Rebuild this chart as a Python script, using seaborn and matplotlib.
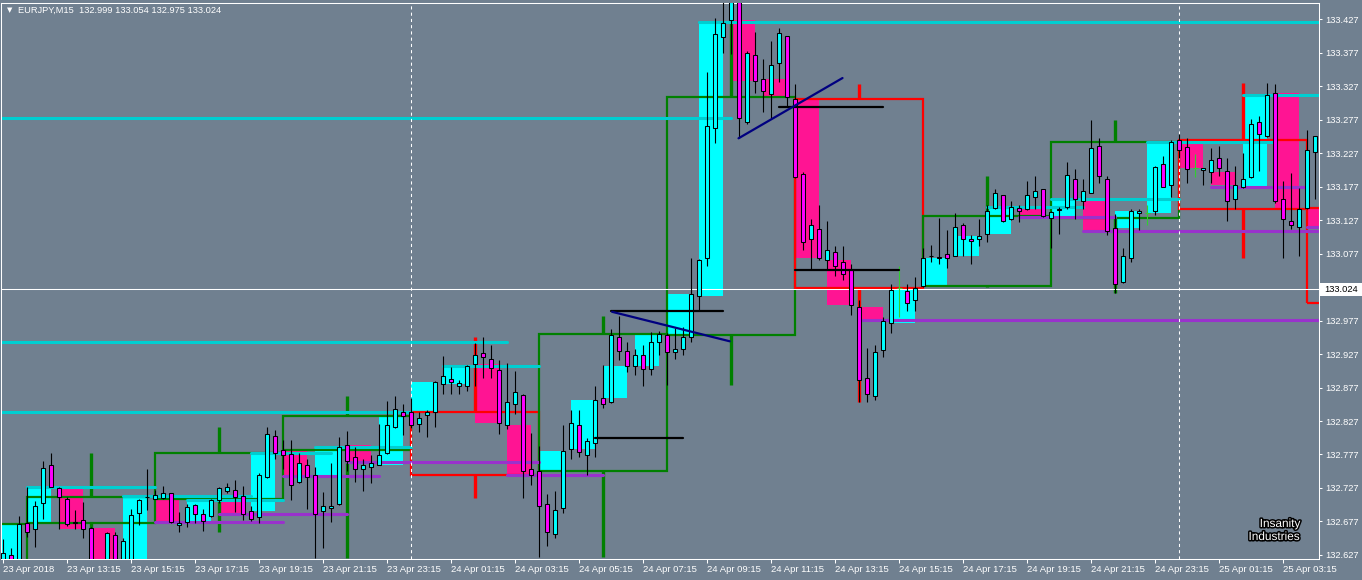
import numpy as np
import pandas as pd
import matplotlib
matplotlib.use("Agg")
import matplotlib.pyplot as plt
import matplotlib.patheffects as pe
import matplotlib.transforms as mtransforms
from matplotlib.patches import Rectangle
import seaborn as sns

# ---------------- data (EURJPY M15, first bar 23 Apr 2018 11:15) ----------------
opens = [132.610, 132.627, 132.612, 132.675, 132.666, 132.705, 132.761, 132.727, 132.711, 132.676,
         132.679, 132.667, 132.605, 132.598, 132.657, 132.605, 132.612, 132.690, 132.713, 132.711,
         132.712, 132.719, 132.672, 132.676, 132.702, 132.688, 132.685, 132.709, 132.722, 132.724,
         132.715, 132.692, 132.683, 132.743, 132.804, 132.783, 132.777, 132.736, 132.761, 132.746,
         132.692, 132.697, 132.703, 132.791, 132.773, 132.755, 132.758, 132.762, 132.779, 132.818,
         132.841, 132.840, 132.822, 132.836, 132.841, 132.882, 132.889, 132.880, 132.879, 132.912,
         132.928, 132.919, 132.903, 132.821, 132.852, 132.866, 132.755, 132.752, 132.703, 132.658,
         132.697, 132.785, 132.821, 132.776, 132.794, 132.861, 132.855, 132.953, 132.931, 132.909,
         132.925, 132.905, 132.945, 132.955, 132.930, 132.935, 132.952, 133.013, 133.070, 133.264,
         133.400, 133.425, 133.470, 133.274, 133.374, 133.338, 133.315, 133.362, 133.401, 133.307,
         133.195, 133.099, 133.114, 133.067, 133.080, 133.064, 133.052, 132.997, 132.891, 132.864,
         132.933, 132.974, 133.025, 133.021, 133.007, 133.028, 133.074, 133.072, 133.076, 133.074,
         133.119, 133.098, 133.098, 133.106, 133.145, 133.164, 133.128, 133.145, 133.143, 133.161,
         133.173, 133.130, 133.142, 133.146, 133.189, 133.156, 133.168, 133.238, 133.189, 133.115,
         133.034, 133.071, 133.137, 133.137, 133.140, 133.210, 133.179, 133.246, 133.236, 133.204,
         133.201, 133.198, 133.220, 133.200, 133.159, 133.176, 133.191, 133.274, 133.252, 133.316,
         133.159, 133.125, 133.116, 133.145, 133.228]
highs = [132.651, 132.638, 132.685, 132.729, 132.708, 132.767, 132.779, 132.728, 132.714, 132.694,
         132.706, 132.669, 132.612, 132.661, 132.662, 132.652, 132.696, 132.710, 132.755, 132.724,
         132.730, 132.720, 132.691, 132.703, 132.703, 132.696, 132.710, 132.729, 132.735, 132.739,
         132.730, 132.700, 132.749, 132.818, 132.813, 132.798, 132.798, 132.779, 132.770, 132.758,
         132.721, 132.764, 132.803, 132.812, 132.788, 132.770, 132.776, 132.822, 132.857, 132.864,
         132.853, 132.862, 132.840, 132.844, 132.886, 132.924, 132.907, 132.888, 132.910, 132.944,
         132.953, 132.940, 132.918, 132.913, 132.901, 132.867, 132.809, 132.789, 132.718, 132.722,
         132.821, 132.843, 132.843, 132.801, 132.880, 132.910, 132.964, 132.984, 132.945, 132.935,
         132.940, 132.960, 132.962, 132.958, 132.966, 132.968, 133.071, 133.069, 133.348, 133.428,
         133.455, 133.480, 133.490, 133.380, 133.407, 133.367, 133.394, 133.413, 133.402, 133.330,
         133.198, 133.128, 133.150, 133.125, 133.088, 133.088, 133.061, 133.007, 132.936, 132.941,
         132.982, 133.032, 133.059, 133.031, 133.042, 133.086, 133.090, 133.130, 133.112, 133.137,
         133.122, 133.104, 133.128, 133.149, 133.173, 133.165, 133.155, 133.149, 133.185, 133.192,
         133.174, 133.140, 133.146, 133.213, 133.203, 133.189, 133.276, 133.249, 133.192, 133.136,
         133.085, 133.144, 133.144, 133.149, 133.207, 133.222, 133.247, 133.256, 133.250, 133.225,
         133.205, 133.234, 133.237, 133.219, 133.207, 133.227, 133.278, 133.282, 133.331, 133.330,
         133.185, 133.197, 133.175, 133.261, 133.252]
lows = [132.600, 132.605, 132.605, 132.654, 132.639, 132.681, 132.729, 132.666, 132.670, 132.666,
        132.652, 132.598, 132.590, 132.595, 132.600, 132.600, 132.605, 132.672, 132.694, 132.710,
        132.711, 132.674, 132.662, 132.669, 132.675, 132.663, 132.684, 132.705, 132.719, 132.691,
        132.679, 132.677, 132.674, 132.742, 132.771, 132.755, 132.709, 132.735, 132.695, 132.622,
        132.637, 132.676, 132.702, 132.752, 132.736, 132.722, 132.734, 132.761, 132.778, 132.817,
        132.806, 132.816, 132.810, 132.803, 132.818, 132.868, 132.868, 132.867, 132.872, 132.879,
        132.891, 132.891, 132.807, 132.815, 132.837, 132.712, 132.732, 132.624, 132.640, 132.652,
        132.689, 132.771, 132.773, 132.746, 132.774, 132.846, 132.854, 132.918, 132.900, 132.895,
        132.880, 132.895, 132.925, 132.881, 132.920, 132.925, 132.945, 132.992, 133.059, 133.242,
        133.377, 133.375, 133.249, 133.271, 133.316, 133.289, 133.279, 133.333, 133.296, 133.190,
        133.083, 133.052, 133.068, 133.052, 133.043, 133.037, 132.985, 132.856, 132.856, 132.859,
        132.922, 132.958, 132.982, 132.991, 132.991, 133.027, 133.064, 133.061, 133.056, 133.073,
        133.074, 133.061, 133.088, 133.094, 133.144, 133.124, 133.127, 133.124, 133.142, 133.143,
        133.131, 133.085, 133.106, 133.143, 133.128, 133.143, 133.167, 133.183, 133.104, 133.018,
        133.033, 133.064, 133.112, 133.119, 133.134, 133.176, 133.161, 133.219, 133.182, 133.191,
        133.180, 133.183, 133.192, 133.125, 133.144, 133.175, 133.190, 133.200, 133.251, 133.152,
        133.071, 133.113, 133.074, 133.144, 133.158]
closes = [132.630, 132.612, 132.673, 132.661, 132.700, 132.757, 132.729, 132.714, 132.673, 132.675,
          132.666, 132.605, 132.598, 132.660, 132.605, 132.648, 132.687, 132.709, 132.714, 132.716,
          132.720, 132.676, 132.675, 132.698, 132.688, 132.677, 132.709, 132.727, 132.728, 132.713,
          132.688, 132.680, 132.746, 132.807, 132.779, 132.776, 132.732, 132.764, 132.743, 132.688,
          132.700, 132.700, 132.788, 132.768, 132.756, 132.761, 132.765, 132.776, 132.821, 132.845,
          132.834, 132.821, 132.831, 132.840, 132.885, 132.894, 132.885, 132.884, 132.909, 132.926,
          132.922, 132.906, 132.824, 132.855, 132.870, 132.752, 132.747, 132.700, 132.661, 132.694,
          132.782, 132.824, 132.780, 132.797, 132.858, 132.852, 132.956, 132.931, 132.909, 132.925,
          132.905, 132.945, 132.957, 132.930, 132.935, 132.952, 133.016, 133.067, 133.267, 133.404,
          133.421, 133.460, 133.279, 133.377, 133.334, 133.319, 133.358, 133.406, 133.310, 133.191,
          133.094, 133.119, 133.070, 133.083, 133.059, 133.047, 133.000, 132.888, 132.867, 132.930,
          132.977, 133.022, 133.025, 133.003, 133.025, 133.070, 133.073, 133.071, 133.071, 133.116,
          133.098, 133.095, 133.103, 133.140, 133.167, 133.125, 133.146, 133.140, 133.164, 133.171,
          133.133, 133.139, 133.143, 133.194, 133.159, 133.171, 133.235, 133.192, 133.110, 133.031,
          133.074, 133.140, 133.140, 133.137, 133.206, 133.177, 133.243, 133.231, 133.203, 133.204,
          133.204, 133.216, 133.204, 133.155, 133.179, 133.189, 133.270, 133.256, 133.313, 133.155,
          133.128, 133.119, 133.143, 133.231, 133.252]

h1_last_close = 133.117      # running H1 candle (04:00)
h4_last_close = 133.003      # running H4 candle (04:00)
bid_price = 133.024

# extended H1 close levels (start bar, end bar, price)
res_start = [-1, -1, -1, 3, 15, 23, 31, 39, 55, 87, 123, 131, 143, 155]
res_end = [91, 63, 51, 19, 31, 35, 41, 51, 67, 166, 135, 147, 159, 166]
res_price = [133.279, 132.945, 132.840, 132.729, 132.715, 132.709, 132.779, 132.788,
             132.909, 133.423, 133.147, 133.159, 133.243, 133.314]
sup_start = [19, 27, 35, 43, 63, 107, 127, 135, 151, 163]
sup_end = [35, 43, 47, 67, 75, 166, 139, 166, 163, 166]
sup_price = [132.676, 132.688, 132.745, 132.766, 132.747, 132.978, 133.131, 133.111, 133.176, 133.117]

# black horizontal segments
blk_start = [74, 76, 97, 99]
blk_end = [85, 90, 110, 112]
blk_price = [132.802, 132.991, 133.296, 133.052]

# navy trend lines
tl_x0 = [76.1, 91.9]
tl_p0 = [132.990, 133.249]
tl_x1 = [90.8, 104.9]
tl_p1 = [132.946, 133.339]

day_sep = [51, 147]

x_tick_pos = list(range(0, 161, 8))
x_tick_labels = ["23 Apr 2018", "23 Apr 13:15", "23 Apr 15:15", "23 Apr 17:15", "23 Apr 19:15",
                 "23 Apr 21:15", "23 Apr 23:15", "24 Apr 01:15", "24 Apr 03:15", "24 Apr 05:15",
                 "24 Apr 07:15", "24 Apr 09:15", "24 Apr 11:15", "24 Apr 13:15", "24 Apr 15:15",
                 "24 Apr 17:15", "24 Apr 19:15", "24 Apr 21:15", "24 Apr 23:15", "25 Apr 01:15",
                 "25 Apr 03:15"]
y_tick_values = [132.627, 132.677, 132.727, 132.777, 132.827, 132.877, 132.927, 132.977, 133.027,
                 133.077, 133.127, 133.177, 133.227, 133.277, 133.327, 133.377, 133.427]
y_tick_labels = ["132.627", "132.677", "132.727", "132.777", "132.827", "132.877", "132.927",
                 "132.977", "133.027", "133.077", "133.127", "133.177", "133.227", "133.277",
                 "133.327", "133.377", "133.427"]
header = "EURJPY,M15  132.999 133.054 132.975 133.024"

# ---------------- style ----------------
BG = "#708090"
sns.set_style("dark", {"axes.facecolor": BG, "figure.facecolor": BG})
plt.rcParams["font.family"] = ["Liberation Sans", "DejaVu Sans"]

W, H = 1362, 580
fig = plt.figure(figsize=(W / 100, H / 100), dpi=100, facecolor=BG)
ax = fig.add_axes([1 / W, 21 / H, 1318 / W, 556 / H])
ax.set_facecolor(BG)

df = pd.DataFrame(dict(o=opens, h=highs, l=lows, c=closes))
df["i"] = np.arange(len(df))
df["g1"] = (df["i"] - 3) // 4
df["g4"] = (df["i"] - 3) // 16

# ---- H1 bodies as filled boxes ----
h1 = df.groupby("g1").agg(o=("o", "first"), c=("c", "last")).reset_index()
h1.loc[h1.index[-1], "c"] = h1_last_close
h1["start"] = 3 + 4 * h1["g1"]
h1["bot"] = np.minimum(h1.o, h1.c)
h1["hgt"] = (h1.o - h1.c).abs()
h1_col = np.where(h1.c >= h1.o, "#00FFFF", "#FF1493")
ax.bar(h1.start, h1.hgt, bottom=h1.bot, width=3, align="edge", color=h1_col,
       linewidth=0, zorder=1)

# ---- H4 candles as outlined rectangles with thick wicks ----
h4 = df.groupby("g4").agg(o=("o", "first"), c=("c", "last"), h=("h", "max"),
                          l=("l", "min")).reset_index()
h4.loc[h4.index[-1], "c"] = h4_last_close
h4["start"] = 3 + 16 * h4["g4"]
h4["top"] = np.maximum(h4.o, h4.c)
h4["bot"] = np.minimum(h4.o, h4.c)
h4_col = np.where(h4.c >= h4.o, "#008000", "#FF0000")
ax.bar(h4.start, h4.top - h4.bot, bottom=h4.bot, width=16, align="edge", fill=False,
       edgecolor=h4_col, linewidth=1.6, zorder=2)
full = h4.index[:-1]
ax.vlines(h4.start[full] + 8, h4.top[full], h4.h[full], colors=h4_col[:-1], lw=2.4, zorder=2)
ax.vlines(h4.start[full] + 8, h4.l[full], h4.bot[full], colors=h4_col[:-1], lw=2.4, zorder=2)

# ---- extended levels (seaborn) ----
def seg_frame(starts, ends, p0, p1):
    rows = []
    for k, (a, b, y0, y1) in enumerate(zip(starts, ends, p0, p1)):
        rows.append((k, a, y0))
        rows.append((k, b, y1))
    return pd.DataFrame(rows, columns=["seg", "x", "y"])

res = seg_frame(res_start, res_end, res_price, res_price)
sup = seg_frame(sup_start, sup_end, sup_price, sup_price)
blk = seg_frame(blk_start, blk_end, blk_price, blk_price)
tl = seg_frame(tl_x0, tl_x1, tl_p0, tl_p1)
sns.lineplot(data=res, x="x", y="y", units="seg", estimator=None, color="#00CED1",
             lw=2.2, ax=ax, legend=False, zorder=2.5)
sns.lineplot(data=sup, x="x", y="y", units="seg", estimator=None, color="#9932CC",
             lw=2.2, ax=ax, legend=False, zorder=2.5)

for xs in day_sep:
    ax.axvline(xs, color="white", lw=0.75, ls=(0, (3, 3)), zorder=2.6)
ax.axhline(bid_price, color="white", lw=0.75, zorder=2.6)

# ---- M15 candles ----
x = df["i"].values
o = df.o.values; c = df.c.values; hi = df.h.values; lo = df.l.values
doji = o == c
wick_col = np.where(doji, "#32CD32", "black")
ax.vlines(x, lo, hi, colors=wick_col, lw=0.8, zorder=3)
nd = ~doji
body_bot = np.minimum(o, c)[nd]
body_h = np.maximum(np.abs(c - o)[nd], 0.0006)
body_col = np.where((c >= o)[nd], "#00FFFF", "#FF00FF")
ax.bar(x[nd], body_h, bottom=body_bot, width=0.5, color=body_col, edgecolor="black",
       linewidth=0.75, zorder=3.2)
ax.hlines(o[doji], x[doji] - 0.3, x[doji] + 0.3, colors="#32CD32", lw=0.8, zorder=3.2)

sns.lineplot(data=blk, x="x", y="y", units="seg", estimator=None, color="black",
             lw=1.6, ax=ax, legend=False, zorder=4)
sns.lineplot(data=tl, x="x", y="y", units="seg", estimator=None, color="#000080",
             lw=1.6, ax=ax, legend=False, zorder=4)

# ---- axes ----
ax.set_xlim(-0.29, 164.46)
ax.set_ylim(132.621, 133.451)
ax.grid(False)
ax.set_xlabel("")
ax.set_ylabel("")
ax.yaxis.tick_right()
ax.set_yticks(y_tick_values)
ax.set_yticklabels(y_tick_labels)
ax.tick_params(axis="y", colors="white", length=2.2, width=0.75, pad=2.2, labelsize=6.7,
               direction="out", right=True, left=False)
ax.set_xticks(x_tick_pos)
ax.set_xticklabels(x_tick_labels, ha="left")
ax.tick_params(axis="x", colors="white", length=2.9, width=0.75, pad=1.2, labelsize=6.8,
               direction="out", bottom=True)
for sp in ax.spines.values():
    sp.set_color("white")
    sp.set_linewidth(0.75)

# bid label on the price scale
bt = mtransforms.blended_transform_factory(fig.transFigure, ax.transData)
ax.add_patch(Rectangle((1320 / W, bid_price - 6.5 / 670), 42 / W, 13 / 670, transform=bt,
                       facecolor="white", edgecolor="none", clip_on=False, zorder=5))
ax.text(1324 / W, bid_price, f"{bid_price:.3f}", transform=bt, color="black", fontsize=6.7,
        va="center", ha="left", zorder=6, clip_on=False)

# header
fig.text(7 / W, 1 - 10 / H, "\u25BC", color="white", fontsize=5, va="center", ha="left",
         family="DejaVu Sans")
fig.text(18 / W, 1 - 10 / H, header, color="white", fontsize=6.7, va="center", ha="left")

# watermark
stroke = [pe.Stroke(linewidth=2.2, foreground="black"), pe.Normal()]
fig.text(1280 / W, 1 - 524 / H, "Insanity", color="white", fontsize=8.5, ha="center",
         va="center", path_effects=stroke)
fig.text(1274 / W, 1 - 537 / H, "Industries", color="white", fontsize=8.5, ha="center",
         va="center", path_effects=stroke)

fig.savefig("out.png", dpi=100, facecolor=BG)
